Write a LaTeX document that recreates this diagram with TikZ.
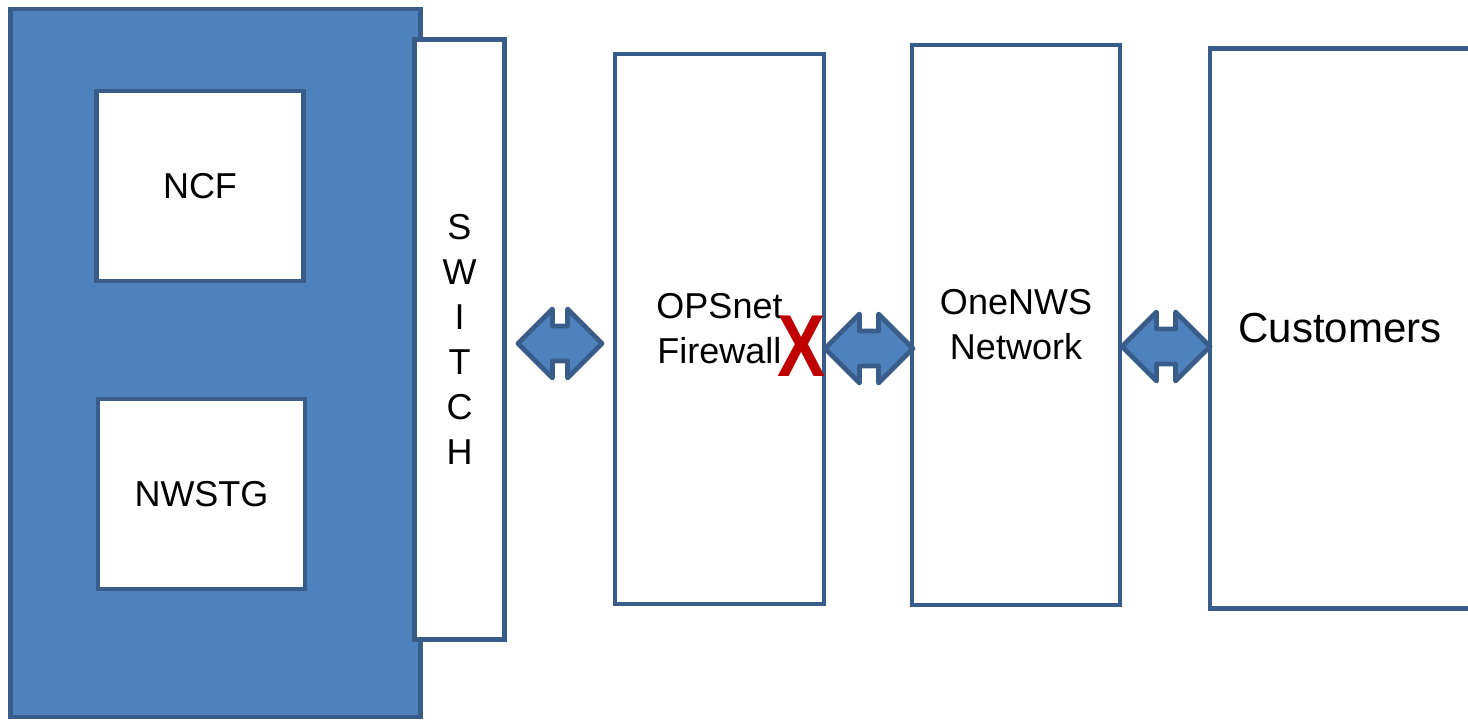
\documentclass[tikz,border=0pt]{standalone}
\usepackage{fontspec}
\setmainfont{Liberation Sans}
\usetikzlibrary{shapes, arrows}
\definecolor{boxline}{HTML}{385D8A}
\definecolor{boxfill}{HTML}{4F81BD}
\definecolor{cutred}{HTML}{C00000}
\tikzstyle{block} = [rectangle, draw=boxline, line width=2.4pt, fill=white, inner sep=0pt, align=center, font=\fontsize{18}{22.5}\selectfont]
\tikzstyle{site} = [block, fill=boxfill]
\tikzstyle{link} = [draw=boxline, line width=2.4pt, fill=boxfill, line join=round]
% fat double arrow: #1 centre, #2 half length
\newcommand{\fatlink}[2]{
  \draw[link, shift={(#1)}] (-#2,0) -- (-#2+34.5,-34.5) -- (-#2+34.5,-17.5) -- (#2-34.5,-17.5) -- (#2-34.5,-34.5) -- (#2,0)
    -- (#2-34.5,34.5) -- (#2-34.5,17.5) -- (-#2+34.5,17.5) -- (-#2+34.5,34.5) -- cycle;
}

\begin{document}
\begin{tikzpicture}[x=0.5pt, y=-0.5pt]
\clip (0,0) rectangle (1468,720);

\node (site) [site, minimum width=205pt, minimum height=354pt] at (215.5,363) {};
\node (ncf) [block, minimum width=103.5pt, minimum height=95pt] at (200,186) {NCF};
\node (nwstg) [block, minimum width=103.5pt, minimum height=95pt] at (201.5,494) {NWSTG};
\node (switch) [block, minimum width=45pt, minimum height=300pt] at (459.5,339.5) {S\\W\\I\\T\\C\\H};
\node (fw) [block, minimum width=104.5pt, minimum height=275pt] at (719.5,329) {OPSnet\\Firewall};
\node (net) [block, minimum width=104pt, minimum height=280pt] at (1016,325) {OneNWS\\Network};
\node (cust) [block, minimum width=130pt, minimum height=280pt, font=\fontsize{21}{25}\selectfont] at (1340,328.5) {Customers};

\fatlink{560,343.5}{42}
\fatlink{869,348.5}{44}
\fatlink{1166,346.5}{44}

\node (cut) [inner sep=0pt, text=cutred, font=\fontsize{44}{44}\bfseries] at (801.5,346) {\scalebox{0.82}[1]{X}};

\end{tikzpicture}
\end{document}
